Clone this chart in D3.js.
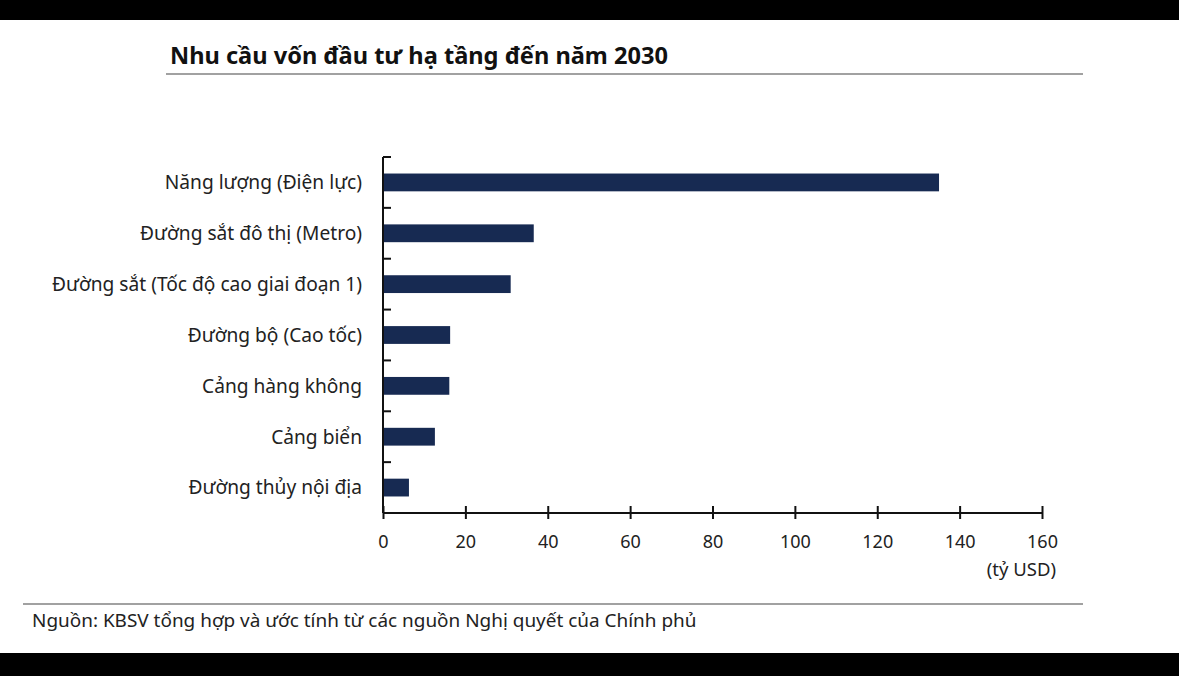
<!DOCTYPE html>
<html><head><meta charset="utf-8">
<script src="https://cdn.jsdelivr.net/npm/d3@7"></script>
<style>
html,body{margin:0;padding:0;background:#000;}
svg{display:block;font-family:"Noto Sans",sans-serif;}
</style></head>
<body>
<svg id="chart" width="1179" height="676"></svg>
<script>
const categories = ["Năng lượng (Điện lực)","Đường sắt đô thị (Metro)","Đường sắt (Tốc độ cao giai đoạn 1)","Đường bộ (Cao tốc)","Cảng hàng không","Cảng biển","Đường thủy nội địa"];
const values = [135, 36.6, 31, 16.3, 16.1, 12.6, 6.3];
const xTicks = [0,20,40,60,80,100,120,140,160];
const titleText = "Nhu cầu vốn đầu tư hạ tầng đến năm 2030";
const unitText = "(tỷ USD)";
const sourceText = "Nguồn: KBSV tổng hợp và ước tính từ các nguồn Nghị quyết của Chính phủ";

const svg = d3.select("#chart");
svg.append("rect").attr("x",0).attr("y",20).attr("width",1179).attr("height",633).attr("fill","#fff");

function fit(sel, target){
  const w = sel.node().getComputedTextLength();
  const fs = parseFloat(sel.attr("font-size"));
  sel.attr("font-size", fs*target/w);
}

const t = svg.append("text").attr("x",170).attr("y",64).attr("font-size",24).attr("font-weight","bold").attr("fill","#111").text(titleText);
fit(t, 498);
svg.append("line").attr("x1",166).attr("x2",1083).attr("y1",74).attr("y2",74).attr("stroke","#444").attr("stroke-width",1.2);

const x = d3.scaleLinear().domain([0,160]).range([383,1042]);
const y = d3.scaleBand().domain(categories).range([157,513]).paddingInner(0.65).paddingOuter(0.325);
const band = d3.scaleBand().domain(categories).range([157,513]);

svg.selectAll("rect.bar").data(categories).enter().append("rect").attr("class","bar")
  .attr("x",x(0)).attr("y",d=>y(d)).attr("width",(d,i)=>x(values[i])-x(0)).attr("height",y.bandwidth())
  .attr("fill","#172a52");

// y axis
const yAxisG = svg.append("g");
yAxisG.append("line").attr("x1",383).attr("x2",383).attr("y1",157).attr("y2",513).attr("stroke","#111").attr("stroke-width",2);
const bounds = categories.map(c=>band(c));
yAxisG.selectAll("line.tk").data(bounds).enter().append("line").attr("class","tk")
  .attr("x1",383).attr("x2",391).attr("y1",d=>d).attr("y2",d=>d).attr("stroke","#111").attr("stroke-width",2);

const labs = svg.selectAll("text.cat").data(categories).enter().append("text").attr("class","cat")
  .attr("x",362).attr("y",d=>band(d)+band.bandwidth()/2).attr("dy","0.36em")
  .attr("text-anchor","end").attr("font-size",17).attr("fill","#222").text(d=>d);
{
  const n = labs.filter((d,i)=>i===2);
  const w = n.node().getComputedTextLength();
  labs.attr("font-size", 17*310/w);
}

// x axis
const xAxis = d3.axisBottom(x).tickValues(xTicks).tickSize(0).tickPadding(0).tickFormat(d3.format("d"));
const xg = svg.append("g").attr("transform","translate(0,513)").call(xAxis);
xg.select(".domain").remove();
xg.append("line").attr("x1",383).attr("x2",1042).attr("y1",0).attr("y2",0).attr("stroke","#111").attr("stroke-width",2);
xg.selectAll(".tick line").remove();
xg.selectAll(".tick").append("line").attr("x1",0).attr("x2",0).attr("y1",-7).attr("y2",6).attr("stroke","#111").attr("stroke-width",2);
xg.selectAll(".tick text").attr("y",35).attr("dy",0).attr("font-size",18).attr("fill","#222").attr("font-family","Noto Sans, sans-serif");

svg.append("text").attr("x",1056).attr("y",576).attr("text-anchor","end").attr("font-size",18.5).attr("fill","#222").text(unitText);

svg.append("line").attr("x1",23).attr("x2",1083).attr("y1",604).attr("y2",604).attr("stroke","#444").attr("stroke-width",1.2);
const s = svg.append("text").attr("x",32).attr("y",627).attr("font-size",17).attr("fill","#222").text(sourceText);
fit(s, 665);
</script>
</body></html>
